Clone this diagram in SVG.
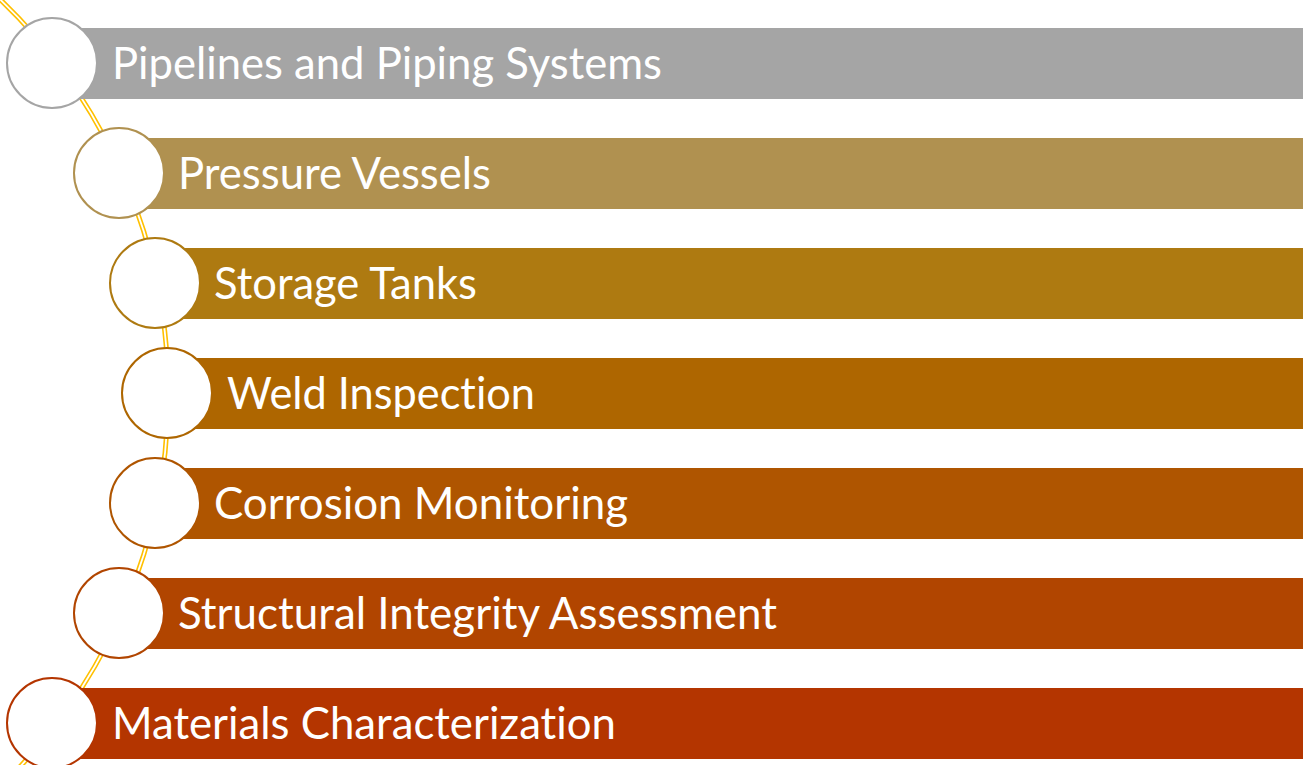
<svg xmlns="http://www.w3.org/2000/svg" width="1307" height="765" viewBox="0 0 1307 765">
  <style>
    .bar { stroke: none; }
    .dot { fill: #FFFFFF; stroke-width: 2; }
    .label { fill: #FFFFFF; font-family: Lato, "Liberation Sans", sans-serif; font-size: 44px; font-variant-ligatures: none; font-feature-settings: "liga" 0, "clig" 0; }
    .rail-outer { fill: none; stroke: #FFC000; stroke-width: 5; }
    .rail-inner { fill: none; stroke: #FFFFFF; stroke-width: 1.8; }
  </style>
  <rect width="1307" height="765" fill="#FFFFFF"/>

  <!-- curved double rail linking the items -->
  <g id="connectors">
    <path class="rail-outer" d="M -10,-10 A 545 545 0 0 1 12,775"/>
    <path class="rail-inner" d="M -10,-10 A 545 545 0 0 1 12,775"/>
  </g>

  <g id="item1">
    <rect class="bar" x="52" y="28" width="1251" height="71" fill="#A5A5A5"/>
    <circle class="dot" cx="52" cy="63" r="45" stroke="#A5A5A5"/>
    <text class="label" x="112" y="79" textLength="550" lengthAdjust="spacingAndGlyphs">Pipelines and Piping Systems</text>
  </g>

  <g id="item2">
    <rect class="bar" x="119" y="138" width="1184" height="71" fill="#B09150"/>
    <circle class="dot" cx="119" cy="173" r="45" stroke="#B09150"/>
    <text class="label" x="178" y="189" textLength="313" lengthAdjust="spacingAndGlyphs">Pressure Vessels</text>
  </g>

  <g id="item3">
    <rect class="bar" x="155" y="248" width="1148" height="71" fill="#AE7A11"/>
    <circle class="dot" cx="155" cy="283" r="45" stroke="#AE7A11"/>
    <text class="label" x="214" y="299" textLength="263" lengthAdjust="spacingAndGlyphs">Storage Tanks</text>
  </g>

  <g id="item4">
    <rect class="bar" x="167" y="358" width="1136" height="71" fill="#AE6600"/>
    <circle class="dot" cx="167" cy="393" r="45" stroke="#AE6600"/>
    <text class="label" x="227" y="409" textLength="308" lengthAdjust="spacingAndGlyphs">Weld Inspection</text>
  </g>

  <g id="item5">
    <rect class="bar" x="155" y="468" width="1148" height="71" fill="#AF5500"/>
    <circle class="dot" cx="155" cy="503" r="45" stroke="#AF5500"/>
    <text class="label" x="214" y="519" textLength="414" lengthAdjust="spacingAndGlyphs">Corrosion Monitoring</text>
  </g>

  <g id="item6">
    <rect class="bar" x="119" y="578" width="1184" height="71" fill="#B14500"/>
    <circle class="dot" cx="119" cy="613" r="45" stroke="#B14500"/>
    <text class="label" x="178" y="629" textLength="599" lengthAdjust="spacingAndGlyphs">Structural Integrity Assessment</text>
  </g>

  <g id="item7">
    <rect class="bar" x="52" y="688" width="1251" height="71" fill="#B43500"/>
    <circle class="dot" cx="52" cy="723" r="45" stroke="#B43500"/>
    <text class="label" x="112" y="739" textLength="504" lengthAdjust="spacingAndGlyphs">Materials Characterization</text>
  </g>
</svg>
